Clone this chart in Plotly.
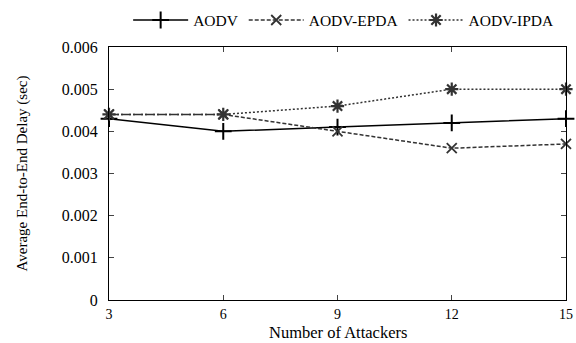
import plotly.graph_objects as go

attackers = [3, 6, 9, 12, 15]
aodv = [0.0043, 0.0040, 0.0041, 0.0042, 0.0043]
aodv_epda = [0.0044, 0.0044, 0.0040, 0.0036, 0.0037]
aodv_ipda = [0.0044, 0.0044, 0.0046, 0.0050, 0.0050]
y_ticks = [0, 0.001, 0.002, 0.003, 0.004, 0.005, 0.006]
y_ticktext = ["0", "0.001", "0.002", "0.003", "0.004", "0.005", "0.006"]
x_ticks = [3, 6, 9, 12, 15]
x_title = "Number of Attackers"
y_title = "Average End-to-End Delay (sec)"

FONT = "Liberation Serif"

fig = go.Figure()
fig.add_trace(go.Scatter(
    x=attackers, y=aodv, name="AODV", mode="lines+markers",
    line=dict(color="black", width=1.5, dash="solid"),
    marker=dict(symbol="cross-thin", size=12, line=dict(color="black", width=2)),
    cliponaxis=False))
fig.add_trace(go.Scatter(
    x=attackers, y=aodv_epda, name="AODV-EPDA", mode="lines+markers",
    line=dict(color="#333333", width=1.5, dash="4px,2px"),
    marker=dict(symbol="x-thin", size=10, line=dict(color="#333333", width=1.8)),
    cliponaxis=False))
fig.add_trace(go.Scatter(
    x=attackers, y=aodv_ipda, name="AODV-IPDA", mode="lines+markers",
    line=dict(color="#333333", width=1.5, dash="2px,2px"),
    marker=dict(symbol="asterisk-open", size=11, line=dict(color="black", width=2.2)),
    cliponaxis=False))

fig.update_layout(
    width=576, height=343,
    margin=dict(l=109, r=10, t=47, b=43),
    paper_bgcolor="white", plot_bgcolor="white",
    font=dict(family=FONT, size=15, color="black"),
    showlegend=True,
    legend=dict(orientation="h", x=0.985, xanchor="right", y=0.99, yref="container",
                yanchor="top", font=dict(family=FONT, size=15.5, color="black"),
                itemwidth=55, bgcolor="rgba(0,0,0,0)", tracegroupgap=0),
    xaxis=dict(range=[3, 15], tickvals=x_ticks, ticks="inside", ticklen=5,
               showline=True, linecolor="black", linewidth=1.2, mirror="ticks",
               showgrid=False, zeroline=False, ticklabelstandoff=1, automargin=False,
               tickfont=dict(family=FONT, size=14)),
    yaxis=dict(range=[0, 0.006], tickvals=y_ticks, ticktext=y_ticktext, ticks="inside",
               ticklen=5, showline=True, linecolor="black", linewidth=1.2, mirror="ticks",
               showgrid=False, zeroline=False, ticklabelstandoff=7, automargin=False,
               title=dict(text=y_title, font=dict(family=FONT, size=15), standoff=30),
               tickfont=dict(family=FONT, size=16)),
    annotations=[dict(text=x_title, x=0.5, xref="paper", y=0, yref="paper",
                      xanchor="center", yanchor="top", yshift=-22, borderpad=0,
                      showarrow=False,
                      font=dict(family=FONT, size=16.5, color="black"))],
)

fig.write_html("out.html", config={"displayModeBar": False},
               post_script="document.body.style.margin='0';")
